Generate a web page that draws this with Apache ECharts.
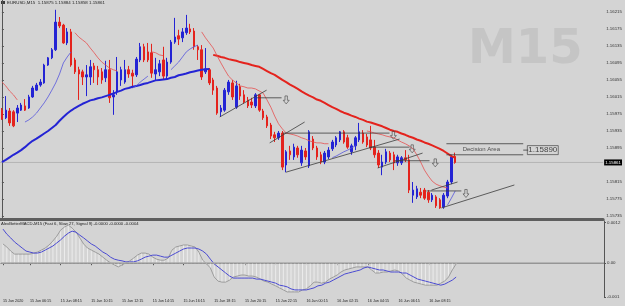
<!DOCTYPE html>
<html>
<head>
<meta charset="utf-8">
<script src="https://cdn.jsdelivr.net/npm/echarts@6/dist/echarts.min.js"></script>
<style>
  html, body { margin: 0; padding: 0; background: #d4d4d4; }
  #chart { width: 625px; height: 306px; }
</style>
</head>
<body>
<div id="chart"></div>
<script>
// EURUSD M15 bars, oldest first
const openP = [
  1.15984, 1.15966, 1.15982, 1.15980, 1.15977, 1.15984, 1.15994, 1.15989, 1.16015, 1.16031,
  1.16043, 1.16048, 1.16090, 1.16107, 1.16126, 1.16191, 1.16184, 1.16142, 1.16168, 1.16102,
  1.16079, 1.16074, 1.16062, 1.16062, 1.16088, 1.16079, 1.16074, 1.16060, 1.16079, 1.16015,
  1.16027, 1.16055, 1.16050, 1.16079, 1.16071, 1.16067, 1.16102, 1.16133, 1.16121, 1.16119,
  1.16069, 1.16074, 1.16102, 1.16064, 1.16097, 1.16144, 1.16159, 1.16154, 1.16166, 1.16175,
  1.16170, 1.16133, 1.16126, 1.16074, 1.16079, 1.16055, 1.16036, 1.15980, 1.15984, 1.16027,
  1.16048, 1.15991, 1.16039, 1.16020, 1.16008, 1.16003, 1.15994, 1.16020, 1.15982, 1.15968,
  1.15949, 1.15926, 1.15919, 1.15930, 1.15855, 1.15888, 1.15874, 1.15895, 1.15860, 1.15888,
  1.15853, 1.15916, 1.15895, 1.15879, 1.15862, 1.15874, 1.15893, 1.15902, 1.15914, 1.15933,
  1.15919, 1.15886, 1.15900, 1.15914, 1.15930, 1.15921, 1.15914, 1.15897, 1.15883, 1.15850,
  1.15862, 1.15883, 1.15879, 1.15860, 1.15860, 1.15872, 1.15867, 1.15784, 1.15780, 1.15791,
  1.15796, 1.15791, 1.15773, 1.15780, 1.15773, 1.15756, 1.15782, 1.15815, 1.15875
];
const highP = [
  1.15989, 1.16017, 1.15989, 1.15984, 1.15996, 1.16001, 1.16010, 1.16020, 1.16041, 1.16048,
  1.16057, 1.16093, 1.16109, 1.16130, 1.16220, 1.16203, 1.16187, 1.16177, 1.16175, 1.16107,
  1.16086, 1.16079, 1.16090, 1.16102, 1.16095, 1.16088, 1.16083, 1.16100, 1.16102, 1.16031,
  1.16109, 1.16086, 1.16102, 1.16088, 1.16079, 1.16109, 1.16142, 1.16140, 1.16142, 1.16140,
  1.16107, 1.16102, 1.16133, 1.16107, 1.16149, 1.16201, 1.16173, 1.16177, 1.16208, 1.16187,
  1.16177, 1.16137, 1.16137, 1.16130, 1.16083, 1.16060, 1.16041, 1.15996, 1.16036, 1.16055,
  1.16055, 1.16053, 1.16046, 1.16031, 1.16015, 1.16013, 1.16024, 1.16022, 1.15987, 1.15973,
  1.15954, 1.15933, 1.15935, 1.15935, 1.15890, 1.15900, 1.15905, 1.15900, 1.15900, 1.15895,
  1.15937, 1.15923, 1.15900, 1.15886, 1.15888, 1.15897, 1.15914, 1.15923, 1.15935, 1.15937,
  1.15926, 1.15905, 1.15923, 1.15954, 1.15937, 1.15928, 1.15947, 1.15914, 1.15890, 1.15879,
  1.15893, 1.15888, 1.15886, 1.15879, 1.15876, 1.15890, 1.15879, 1.15815, 1.15806, 1.15801,
  1.15801, 1.15796, 1.15789, 1.15784, 1.15777, 1.15789, 1.15820, 1.15879, 1.15884
];
const lowP = [
  1.15961, 1.15963, 1.15947, 1.15944, 1.15956, 1.15982, 1.15982, 1.15987, 1.16013, 1.16029,
  1.16039, 1.16046, 1.16088, 1.16104, 1.16123, 1.16177, 1.16140, 1.16137, 1.16086, 1.16069,
  1.16008, 1.16043, 1.16017, 1.16043, 1.16048, 1.16043, 1.16046, 1.16050, 1.16001, 1.15973,
  1.16020, 1.16041, 1.16046, 1.16060, 1.16036, 1.16062, 1.16097, 1.16097, 1.16097, 1.16060,
  1.16055, 1.16064, 1.16055, 1.16057, 1.16093, 1.16140, 1.16137, 1.16144, 1.16161, 1.16163,
  1.16126, 1.16102, 1.16055, 1.16069, 1.16043, 1.16020, 1.15973, 1.15968, 1.15980, 1.16020,
  1.16008, 1.15987, 1.16008, 1.15999, 1.15989, 1.15989, 1.15989, 1.15980, 1.15961, 1.15942,
  1.15916, 1.15909, 1.15914, 1.15843, 1.15838, 1.15867, 1.15867, 1.15872, 1.15853, 1.15867,
  1.15848, 1.15890, 1.15867, 1.15857, 1.15857, 1.15869, 1.15888, 1.15897, 1.15909, 1.15905,
  1.15893, 1.15879, 1.15890, 1.15909, 1.15905, 1.15897, 1.15890, 1.15872, 1.15848, 1.15831,
  1.15857, 1.15862, 1.15843, 1.15853, 1.15855, 1.15862, 1.15789, 1.15766, 1.15775, 1.15777,
  1.15773, 1.15766, 1.15768, 1.15754, 1.15752, 1.15752, 1.15777, 1.15810, 1.15858
];
const closeP = [
  1.15963, 1.15984, 1.15954, 1.15947, 1.15989, 1.15996, 1.15984, 1.16015, 1.16036, 1.16043,
  1.16050, 1.16090, 1.16107, 1.16126, 1.16191, 1.16182, 1.16142, 1.16168, 1.16090, 1.16074,
  1.16069, 1.16062, 1.16067, 1.16086, 1.16079, 1.16062, 1.16055, 1.16079, 1.16013, 1.16020,
  1.16074, 1.16079, 1.16079, 1.16069, 1.16064, 1.16104, 1.16133, 1.16102, 1.16102, 1.16071,
  1.16079, 1.16093, 1.16064, 1.16097, 1.16144, 1.16156, 1.16151, 1.16168, 1.16177, 1.16168,
  1.16133, 1.16126, 1.16062, 1.16081, 1.16048, 1.16031, 1.15977, 1.15989, 1.16031, 1.16050,
  1.16015, 1.16041, 1.16017, 1.16003, 1.15994, 1.15996, 1.16020, 1.15984, 1.15966, 1.15947,
  1.15923, 1.15919, 1.15930, 1.15850, 1.15886, 1.15879, 1.15897, 1.15879, 1.15890, 1.15874,
  1.15933, 1.15895, 1.15874, 1.15862, 1.15883, 1.15890, 1.15909, 1.15919, 1.15933, 1.15909,
  1.15897, 1.15900, 1.15919, 1.15933, 1.15909, 1.15902, 1.15895, 1.15879, 1.15855, 1.15862,
  1.15886, 1.15867, 1.15860, 1.15874, 1.15872, 1.15867, 1.15796, 1.15796, 1.15799, 1.15784,
  1.15777, 1.15773, 1.15784, 1.15759, 1.15754, 1.15784, 1.15815, 1.15874, 1.15861
];
const lastPrice = 1.15861;

// slow MA: blue while rising, red while falling
const slowMaRising = [
  1.15862, 1.15867, 1.15873, 1.15879, 1.15884, 1.15890, 1.15897, 1.15905, 1.15912, 1.15917,
  1.15923, 1.15929, 1.15935, 1.15942, 1.15949, 1.15959, 1.15968, 1.15976, 1.15983, 1.15989,
  1.15994, 1.15999, 1.16003, 1.16007, 1.16009, 1.16012, 1.16014, 1.16017, 1.16020, 1.16023,
  1.16027, 1.16030, 1.16034, 1.16036, 1.16039, 1.16041, 1.16043, 1.16046, 1.16048, 1.16051,
  1.16054, 1.16055, 1.16056, 1.16057, 1.16060, 1.16062, 1.16066, 1.16068, 1.16070, 1.16073,
  1.16075, 1.16077, 1.16079, 1.16080, 1.16081
];
const slowMaFallingFrom = 55;
const slowMaFalling = [
  1.16114, 1.16112, 1.16109, 1.16107, 1.16104,
  1.16102, 1.16100, 1.16097, 1.16095, 1.16093, 1.16090, 1.16088, 1.16086, 1.16081, 1.16076,
  1.16071, 1.16067, 1.16061, 1.16055, 1.16050, 1.16044, 1.16039, 1.16034, 1.16028, 1.16023,
  1.16018, 1.16014, 1.16009, 1.16006, 1.16001, 1.15996, 1.15991, 1.15987, 1.15982, 1.15978,
  1.15975, 1.15971, 1.15968, 1.15964, 1.15961, 1.15957, 1.15955, 1.15952, 1.15949, 1.15946,
  1.15942, 1.15938, 1.15935, 1.15933, 1.15929, 1.15926, 1.15922, 1.15919, 1.15915, 1.15912,
  1.15908, 1.15905, 1.15901, 1.15897, 1.15893, 1.15888, 1.15882, 1.15876, 1.15872
];

// fast MA pieces
const fastMaSegments = [
  { from: 0, rising: false, values: [1.16050, 1.16041, 1.16029, 1.16020, 1.16008] },
  { from: 6, rising: true, values: [1.15956, 1.15961, 1.15968, 1.15977, 1.15989, 1.16001, 1.16015, 1.16031, 1.16048, 1.16069, 1.16095, 1.16109, 1.16121] },
  { from: 19, rising: false, values: [1.16166, 1.16156, 1.16149, 1.16142, 1.16130, 1.16119, 1.16107, 1.16097, 1.16090, 1.16083, 1.16079, 1.16076] },
  { from: 34, rising: true, values: [1.16036, 1.16041, 1.16050, 1.16057, 1.16064] },
  { from: 39, rising: false, values: [1.16121, 1.16119, 1.16114, 1.16112] },
  { from: 44, rising: true, values: [1.16079, 1.16088, 1.16097, 1.16109, 1.16121, 1.16128, 1.16133, 1.16137] },
  { from: 52, rising: false, values: [1.16168, 1.16154, 1.16142, 1.16130, 1.16112, 1.16095, 1.16079, 1.16064, 1.16055, 1.16048,
    1.16041, 1.16039, 1.16036, 1.16036, 1.16034, 1.16029, 1.16024, 1.16008, 1.15991, 1.15970,
    1.15952, 1.15940, 1.15930, 1.15928, 1.15926, 1.15923, 1.15919, 1.15916, 1.15912, 1.15909,
    1.15907, 1.15907, 1.15905, 1.15905] },
  { from: 86, rising: true, values: [1.15872, 1.15876, 1.15881, 1.15886, 1.15890, 1.15895, 1.15900] },
  { from: 95, rising: false, values: [1.15935, 1.15933, 1.15930, 1.15928, 1.15926, 1.15923, 1.15921, 1.15919, 1.15914, 1.15909,
    1.15905, 1.15900, 1.15893, 1.15879, 1.15862, 1.15843, 1.15829, 1.15817, 1.15810, 1.15806,
    1.15803, 1.15801] },
  { from: 116, rising: true, values: [1.15761, 1.15777, 1.15794] }
];

// MACD window
const macdLine = [
  0.00057, 0.00048, 0.00036, 0.00027, 0.00027, 0.00027, 0.00027, 0.00027, 0.00030, 0.00033,
  0.00039, 0.00045, 0.00054, 0.00066, 0.00080, 0.00098, 0.00107, 0.00113, 0.00104, 0.00092,
  0.00075, 0.00057, 0.00045, 0.00039, 0.00033, 0.00027, 0.00018, 0.00009, 0.00001, -0.00005,
  -0.00011, -0.00005, 0.00001, 0.00007, 0.00015, 0.00024, 0.00030, 0.00030, 0.00027, 0.00018,
  0.00012, 0.00009, 0.00009, 0.00015, 0.00039, 0.00048, 0.00051, 0.00054, 0.00054, 0.00051,
  0.00048, 0.00033, 0.00009, -0.00002, -0.00014, -0.00041, -0.00053, -0.00056, -0.00056, -0.00050,
  -0.00041, -0.00038, -0.00035, -0.00035, -0.00038, -0.00038, -0.00041, -0.00047, -0.00053, -0.00056,
  -0.00062, -0.00067, -0.00073, -0.00079, -0.00085, -0.00085, -0.00085, -0.00085, -0.00079, -0.00076,
  -0.00067, -0.00056, -0.00056, -0.00059, -0.00056, -0.00047, -0.00041, -0.00035, -0.00026, -0.00020,
  -0.00017, -0.00014, -0.00011, -0.00011, -0.00011, -0.00011, -0.00020, -0.00029, -0.00029, -0.00026,
  -0.00026, -0.00023, -0.00020, -0.00023, -0.00032, -0.00044, -0.00050, -0.00056, -0.00059, -0.00062,
  -0.00065, -0.00065, -0.00065, -0.00065, -0.00059, -0.00053, -0.00041, -0.00020, -0.00002
];
const signalLine = [
  0.00101, 0.00086, 0.00075, 0.00063, 0.00054, 0.00045, 0.00036, 0.00033, 0.00030, 0.00030,
  0.00033, 0.00039, 0.00045, 0.00051, 0.00060, 0.00069, 0.00080, 0.00089, 0.00095, 0.00092,
  0.00083, 0.00075, 0.00066, 0.00057, 0.00051, 0.00042, 0.00033, 0.00027, 0.00018, 0.00012,
  0.00009, 0.00007, 0.00004, 0.00004, 0.00004, 0.00007, 0.00012, 0.00018, 0.00021, 0.00024,
  0.00024, 0.00021, 0.00018, 0.00018, 0.00024, 0.00030, 0.00036, 0.00042, 0.00045, 0.00045,
  0.00045, 0.00042, 0.00036, 0.00027, 0.00012, -0.00002, -0.00011, -0.00020, -0.00029, -0.00038,
  -0.00044, -0.00044, -0.00044, -0.00044, -0.00044, -0.00044, -0.00047, -0.00047, -0.00050, -0.00053,
  -0.00056, -0.00059, -0.00065, -0.00067, -0.00070, -0.00076, -0.00079, -0.00079, -0.00079, -0.00079,
  -0.00076, -0.00073, -0.00067, -0.00065, -0.00059, -0.00056, -0.00050, -0.00044, -0.00038, -0.00032,
  -0.00029, -0.00026, -0.00023, -0.00020, -0.00014, -0.00011, -0.00014, -0.00017, -0.00020, -0.00020,
  -0.00023, -0.00026, -0.00026, -0.00026, -0.00029, -0.00029, -0.00035, -0.00041, -0.00047, -0.00050,
  -0.00053, -0.00056, -0.00059, -0.00062, -0.00065, -0.00062, -0.00056, -0.00050, -0.00041
];

// drawn objects: [barFrom, priceFrom, barTo, priceTo]
const trendLines = [
  [56.7, 1.15968, 68.9, 1.16031],
  [66.3, 1.16013, 72.8, 1.16013],
  [69.7, 1.15907, 78.8, 1.15956],
  [73.1, 1.15930, 100.9, 1.15930],
  [73.9, 1.15838, 103.5, 1.15916],
  [95.7, 1.15897, 106.1, 1.15897],
  [97.8, 1.15848, 109.5, 1.15883],
  [102.2, 1.15865, 111.3, 1.15865],
  [111.8, 1.15796, 118.6, 1.15815],
  [110.5, 1.15794, 119.6, 1.15794],
  [114.4, 1.15754, 133.4, 1.15808],
  [115.7, 1.15905, 135.7, 1.15905],
  [115.7, 1.15879, 135.7, 1.15879],
  [135.7, 1.15890, 137.0, 1.15890]
];
const arrowMarks = [[74.0, 1.16008], [101.9, 1.15925], [106.8, 1.15893], [112.8, 1.15860], [120.8, 1.15788]];
const decisionText = [124.8, 1.15892];
const decisionLevel = [140.8, 1.15890];

const priceTicks = [1.16215, 1.16175, 1.16135, 1.16095, 1.16055, 1.16015, 1.15975, 1.15935, 1.15895, 1.15815, 1.15775, 1.15735];
const macdTicks = [0.0012, 0, -0.001];
const macdTickText = ['0.0012', '0.00', '-0.001'];
const tickIndex = [0, 7, 15, 23, 31, 39, 47, 55, 63, 71, 79, 87, 95, 103, 111];
const tickText = ['15 Jun 2020', '15 Jun 06:15', '15 Jun 08:15', '15 Jun 10:15', '15 Jun 12:15', '15 Jun 14:15',
  '15 Jun 16:15', '15 Jun 18:15', '15 Jun 20:15', '15 Jun 22:15', '16 Jun 00:15', '16 Jun 02:15',
  '16 Jun 04:15', '16 Jun 06:15', '16 Jun 08:15'];
const slotCount = 157; // bars plus the empty chart shift on the right

const FONT = 'Liberation Sans';
const BLUE = '#2424d4';
const RED = '#e4231d';

const chart = echarts.init(document.getElementById('chart'));

const categories = [];
for (let i = 0; i < slotCount; i++) categories.push(String(i));
const labelAt = {};
tickIndex.forEach((idx, k) => { labelAt[idx] = tickText[k]; });
const macdLabel = {};
macdTicks.forEach((v, k) => { macdLabel[v] = macdTickText[k]; });

const candles = openP.map((o, i) => [o, closeP[i], lowP[i], highP[i]]);

function maLine(from, values, color, width) {
  return {
    type: 'line', xAxisIndex: 1, yAxisIndex: 0,
    data: values.map((v, k) => [from + k, v]),
    symbol: 'none', silent: true, z: 4,
    lineStyle: { color: color, width: width }
  };
}

const series = [
  // bid line with its price tag on the scale
  {
    type: 'line', xAxisIndex: 1, yAxisIndex: 0, symbol: 'none', silent: true, z: 1,
    data: [[-0.5, lastPrice], [slotCount - 0.5, lastPrice]],
    lineStyle: { color: '#b4b4b4', width: 1 },
    endLabel: {
      show: true, distance: 1, formatter: () => lastPrice.toFixed(5),
      backgroundColor: '#000', color: '#fff', fontSize: 4.4, fontFamily: FONT, padding: [1, 1, 1, 1]
    }
  },
  {
    type: 'candlestick', xAxisIndex: 0, yAxisIndex: 0, data: candles, barWidth: 2, z: 3,
    itemStyle: { color: BLUE, color0: RED, borderColor: BLUE, borderColor0: RED, borderWidth: 1 }
  },
  maLine(0, slowMaRising, BLUE, 2),
  maLine(slowMaFallingFrom, slowMaFalling, RED, 2)
];

fastMaSegments.forEach(s => {
  series.push(maLine(s.from, s.values, s.rising ? '#5555dd' : '#e65050', 0.8));
});

trendLines.forEach(t => {
  series.push({
    type: 'line', xAxisIndex: 1, yAxisIndex: 0, symbol: 'none', silent: true, z: 5,
    data: [[t[0], t[1]], [t[2], t[3]]],
    lineStyle: { color: '#3c3c3c', width: 0.8 }
  });
});

series.push({
  type: 'scatter', xAxisIndex: 1, yAxisIndex: 0, data: arrowMarks, z: 6, silent: true,
  symbol: 'path://M3,0 L7,0 L7,6 L10,6 L5,11 L0,6 L3,6 Z', symbolSize: [6, 8],
  itemStyle: { color: 'rgba(0,0,0,0)', borderColor: '#4a4a4a', borderWidth: 0.8 }
});

series.push({
  type: 'scatter', xAxisIndex: 1, yAxisIndex: 0, z: 6, silent: true, symbolSize: 0.1,
  itemStyle: { color: 'rgba(0,0,0,0)' },
  data: [
    { value: decisionText, label: { show: true, position: 'inside', formatter: 'Decision Area', fontSize: 6, color: '#2a2a2a', fontFamily: FONT } },
    { value: decisionLevel, label: { show: true, position: 'inside', formatter: '1.15890', fontSize: 8, color: '#1a1a1a', fontFamily: FONT,
      borderColor: '#3a3a3a', borderWidth: 0.8, padding: [1, 1, 0, 1] } }
  ]
});

series.push({
  type: 'bar', xAxisIndex: 2, yAxisIndex: 1, data: macdLine, barWidth: 1, silent: true,
  itemStyle: { color: '#ececec' },
  markLine: {
    silent: true, symbol: 'none', animation: false, label: { show: false },
    lineStyle: { color: '#ababab', width: 1.5, type: 'solid' },
    data: [{ yAxis: 0 }]
  }
});
series.push({
  type: 'line', xAxisIndex: 2, yAxisIndex: 1, data: macdLine, symbol: 'none', silent: true, z: 3,
  lineStyle: { color: '#8e8e8e', width: 0.8 }
});
series.push({
  type: 'line', xAxisIndex: 2, yAxisIndex: 1, data: signalLine, symbol: 'none', silent: true, z: 4,
  lineStyle: { color: '#4b4bd2', width: 1 }
});

const option = {
  backgroundColor: '#d4d4d4',
  animation: false,
  textStyle: { fontFamily: FONT },
  grid: [
    { left: 0, right: 21, top: 0, height: 219 },
    { left: 0, right: 21, top: 221, height: 76 }
  ],
  xAxis: [
    {
      type: 'category', gridIndex: 0, data: categories, boundaryGap: true,
      axisLine: { show: true, lineStyle: { color: '#5e5e5e', width: 3 } },
      axisTick: { show: false }, axisLabel: { show: false }, splitLine: { show: false }
    },
    { type: 'value', gridIndex: 0, min: -0.5, max: slotCount - 0.5, show: false },
    {
      type: 'category', gridIndex: 1, data: categories, boundaryGap: true,
      axisLine: { show: true, lineStyle: { color: '#555', width: 1 } },
      axisTick: {
        show: true, alignWithLabel: true, length: 2, lineStyle: { color: '#555' },
        interval: (i) => labelAt[i] !== undefined
      },
      axisLabel: {
        interval: (i) => labelAt[i] !== undefined,
        formatter: (v, i) => labelAt[i] || '',
        align: 'left', fontSize: 3.7, color: '#222', margin: 2, fontFamily: FONT
      },
      splitLine: { show: false }
    }
  ],
  yAxis: [
    {
      type: 'value', gridIndex: 0, position: 'right', min: 1.15728, max: 1.16243,
      axisLine: { show: true, lineStyle: { color: '#555', width: 1 } },
      axisTick: { show: true, length: 2, customValues: priceTicks, lineStyle: { color: '#555' } },
      axisLabel: { customValues: priceTicks, formatter: (v) => v.toFixed(5), fontSize: 4.4, color: '#333', margin: 3, fontFamily: FONT },
      splitLine: { show: false }
    },
    {
      type: 'value', gridIndex: 1, position: 'right', min: -0.001, max: 0.00125,
      axisLine: { show: true, lineStyle: { color: '#555', width: 1 } },
      axisTick: { show: true, length: 2, customValues: macdTicks, lineStyle: { color: '#555' } },
      axisLabel: { customValues: macdTicks, formatter: (v) => macdLabel[v] !== undefined ? macdLabel[v] : '', fontSize: 4.4, color: '#333', margin: 3, fontFamily: FONT },
      splitLine: { show: false }
    }
  ],
  graphic: [
    { type: 'text', x: 468, y: 27, z: -1, silent: true,
      style: { text: 'M15', fontSize: 48, fontWeight: 'bold', fontFamily: 'DejaVu Sans', fill: '#c5c5c5' } },
    { type: 'rect', shape: { x: 1, y: 1, width: 4, height: 3 }, style: { fill: '#3a3a3a' }, silent: true },
    { type: 'text', x: 7, y: 0.5, silent: true,
      style: { text: 'EURUSD,M15  1.15875 1.15884 1.15858 1.15861', fontSize: 4.4, fontFamily: FONT, fill: '#222' } },
    { type: 'text', x: 1, y: 221.5, silent: true,
      style: { text: 'AlexBetterMACD-M15 (Fast 6, Slow 27, Signal 9) -0.0000 -0.0000 -0.0004', fontSize: 4.2, fontFamily: FONT, fill: '#222' } }
  ],
  series: series
};

chart.setOption(option);
</script>
</body>
</html>
